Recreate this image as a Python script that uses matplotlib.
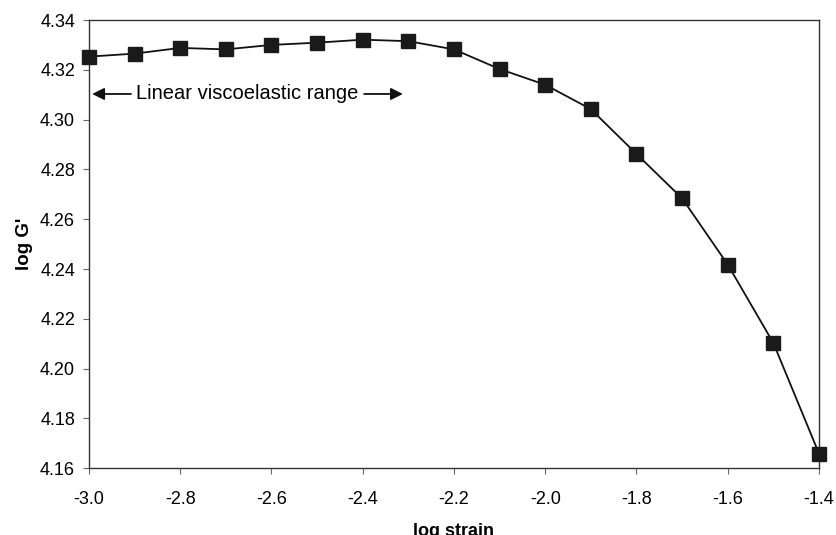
import matplotlib
matplotlib.use("Agg")
import matplotlib.pyplot as plt

# strain sweep: log strain vs log G'
log_strain = [-3.0, -2.9, -2.8, -2.7, -2.6, -2.5, -2.4, -2.3, -2.2,
              -2.1, -2.0, -1.9, -1.8, -1.7, -1.6, -1.5, -1.4]
log_G = [4.3253, 4.3265, 4.3288, 4.3282, 4.3300, 4.3309, 4.3321, 4.3315, 4.3282,
         4.3203, 4.3140, 4.3042, 4.2862, 4.2684, 4.2418, 4.2103, 4.1659]
xticks = [-3.0, -2.8, -2.6, -2.4, -2.2, -2.0, -1.8, -1.6, -1.4]
yticks = [4.16, 4.18, 4.20, 4.22, 4.24, 4.26, 4.28, 4.30, 4.32, 4.34]

plt.rcParams["font.family"] = ["Liberation Sans", "DejaVu Sans"]
fig = plt.figure(figsize=(8.37, 5.35), dpi=100)
ax = fig.add_axes([0.1063, 0.1247, 0.8722, 0.8379])

ax.plot(log_strain, log_G, "-s", color="#111111", lw=1.3, ms=9.5,
        mfc="#1a1a1a", mec="#1a1a1a", clip_on=False, zorder=5)

ax.set_xlim(-3.0, -1.4); ax.set_ylim(4.16, 4.34)
ax.set_xticks(xticks); ax.set_xticklabels([f"{t:.1f}" for t in xticks])
ax.set_yticks(yticks); ax.set_yticklabels([f"{t:.2f}" for t in yticks])
ax.tick_params(labelsize=13, length=4, width=0.8, color="#666666", direction="out")
ax.tick_params(axis="x", pad=12)
ax.tick_params(axis="y", pad=6)
for s in ax.spines.values():
    s.set_color("#333333"); s.set_linewidth(1.0)

ax.set_xlabel("log strain", fontsize=13, fontweight="bold", labelpad=11)
ax.set_ylabel("log G'", fontsize=13.5, fontweight="bold", labelpad=5)

# linear viscoelastic range annotation
ty = 4.3103
ax.text(-2.654, ty, "Linear viscoelastic range", fontsize=14.5, ha="center", va="center")
arrow = dict(arrowstyle="-|>", color="#111111", lw=1.3, mutation_scale=18, shrinkA=0, shrinkB=0)
ax.annotate("", xy=(-2.993, ty), xytext=(-2.908, ty), arrowprops=arrow)
ax.annotate("", xy=(-2.312, ty), xytext=(-2.397, ty), arrowprops=arrow)

fig.savefig("out.png", dpi=100)
